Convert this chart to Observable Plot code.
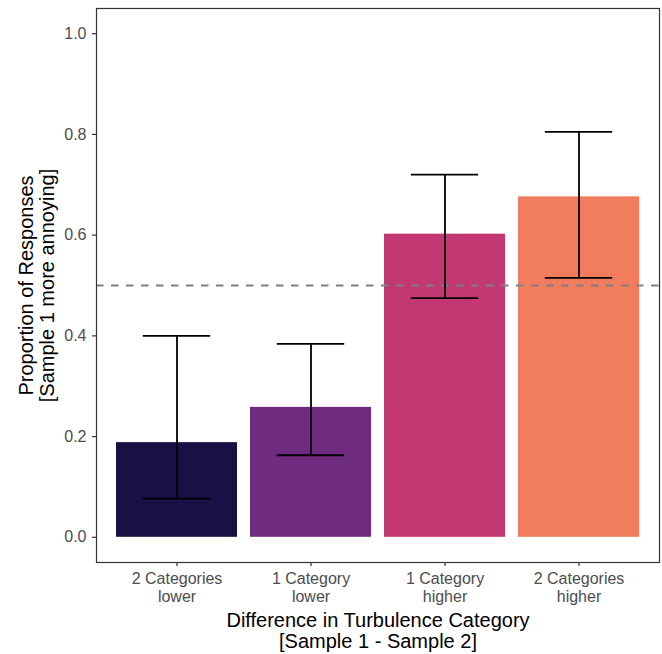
<!DOCTYPE html>
<html>
<head>
<meta charset="utf-8">
<script src="https://cdn.jsdelivr.net/npm/d3@7"></script>
<script src="https://cdn.jsdelivr.net/npm/@observablehq/plot@0.6"></script>
<style>
  html, body { margin: 0; padding: 0; background: #fff; }
  svg { font-family: "Liberation Sans", Arial, sans-serif; }
</style>
</head>
<body>
<div id="chart"></div>
<script>
const categories = ["2 Categories\nlower", "1 Category\nlower", "1 Category\nhigher", "2 Categories\nhigher"];
const proportions = [0.188, 0.258, 0.602, 0.676];
const lowerCI = [0.077, 0.163, 0.475, 0.515];
const upperCI = [0.400, 0.384, 0.720, 0.805];
const colors = ["#1B1045", "#6F2B80", "#C13872", "#F27D5E"];
const yTicks = [0, 0.2, 0.4, 0.6, 0.8, 1.0];
const reference = 0.5;

const data = categories.map((c, i) => ({cat: c, p: proportions[i], lo: lowerCI[i], hi: upperCI[i]}));

const W = 662, H = 654, mL = 96, mR = 3, mT = 8, mB = 92;
const step = (W - mL - mR) / 4.2;
const capInset = (0.9 * step - 0.5 * step) / 2;

const plot = Plot.plot({
  width: W, height: H,
  marginLeft: mL, marginRight: mR, marginTop: mT, marginBottom: mB,
  style: {fontFamily: "'Liberation Sans', Arial, sans-serif", background: "#fff"},
  x: {domain: categories, paddingInner: 0.1, paddingOuter: 0.15, axis: null},
  y: {domain: [-0.05, 1.05], axis: null},
  color: {domain: categories, range: colors},
  marks: [
    Plot.barY(data, {x: "cat", y1: 0, y2: "p", fill: "cat"}),
    Plot.ruleY([reference], {stroke: "#7F7F7F", strokeWidth: 1.8, strokeDasharray: "7.5,7.5"}),
    Plot.ruleX(data, {x: "cat", y1: "lo", y2: "hi", stroke: "#000", strokeWidth: 1.8}),
    Plot.tickY(data, {x: "cat", y: "lo", stroke: "#000", strokeWidth: 1.8, insetLeft: capInset, insetRight: capInset}),
    Plot.tickY(data, {x: "cat", y: "hi", stroke: "#000", strokeWidth: 1.8, insetLeft: capInset, insetRight: capInset}),
    Plot.frame({stroke: "#333333", strokeWidth: 1.2}),
    Plot.axisY(yTicks, {tickSize: 4, tickPadding: 6, tickFormat: d3.format(".1f"), stroke: "#333333", strokeWidth: 1.2, fill: "#4D4D4D", fontSize: 16, label: null}),
    Plot.axisX({tickSize: 4, tickPadding: 5, stroke: "#333333", strokeWidth: 1.2, fill: "#4D4D4D", fontSize: 16, lineHeight: 1.12, label: null}),
    Plot.text(["Difference in Turbulence Category\n[Sample 1 - Sample 2]"], {frameAnchor: "bottom", dy: 68.5, lineAnchor: "middle", fontSize: 20, fill: "#000", lineHeight: 1.06}),
    Plot.text(["Proportion of Responses\n[Sample 1 more annoying]"], {frameAnchor: "left", dx: -60, rotate: -90, lineAnchor: "middle", textAnchor: "middle", fontSize: 20, fill: "#000", lineHeight: 1.06})
  ]
});
document.getElementById("chart").appendChild(plot);
</script>
</body>
</html>
